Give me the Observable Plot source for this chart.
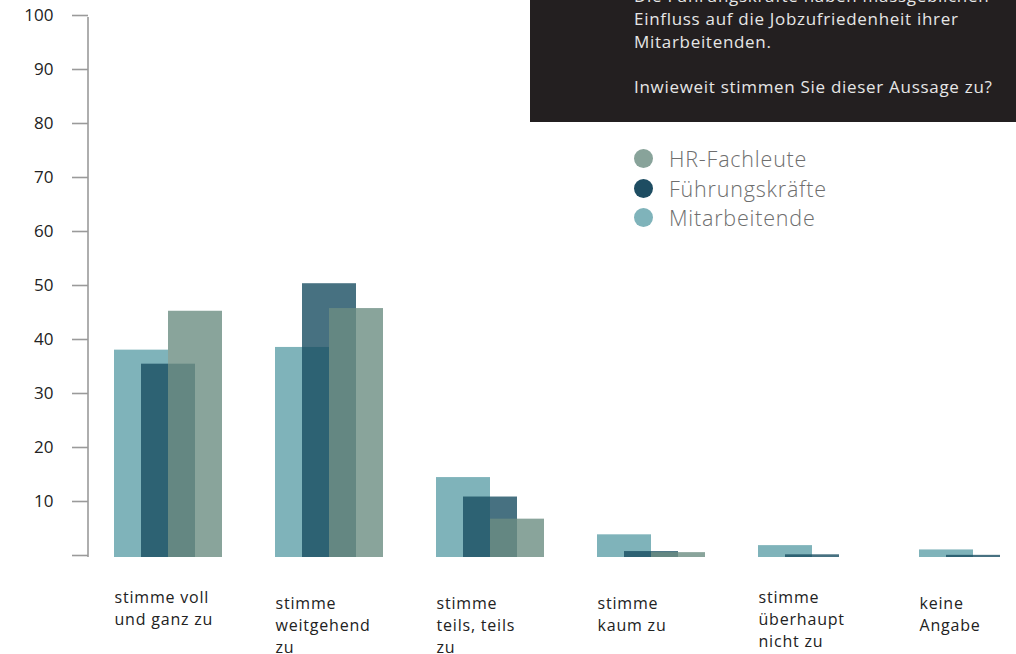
<!DOCTYPE html>
<html><head><meta charset="utf-8">
<script src="https://cdn.jsdelivr.net/npm/d3@7"></script>
<script src="https://cdn.jsdelivr.net/npm/@observablehq/plot@0.6"></script>
<style>
body{margin:0;background:#fff;font-family:"Open Sans", sans-serif;}
#wrap{position:relative;width:1016px;height:654px;overflow:hidden;}
#chart{position:absolute;left:0;top:0;}
#box{position:absolute;left:530px;top:0;width:486px;height:122px;background:#231f20;color:#e6e6e6;font-size:17px;line-height:22.7px;letter-spacing:0.7px;overflow:hidden;}
#box .txt{position:absolute;left:104px;top:-14.7px;white-space:pre;}
#legend{position:absolute;left:634px;top:144px;}
.item{display:flex;align-items:center;height:29.5px;font-size:21.5px;font-weight:300;letter-spacing:0.8px;color:#6e6e6e;}
.sw{width:19px;height:19px;border-radius:50%;margin-right:16px;flex:none;}
[aria-label="y-axis tick label"]{fill:#222;}
[aria-label="text"] text{letter-spacing:0.8px;}
</style></head><body>
<div id="wrap"><div id="chart"></div><div id="box"><div class="txt"></div></div><div id="legend"></div></div>
<script>
const categories = ["stimme voll\nund ganz zu", "stimme\nweitgehend\nzu", "stimme\nteils, teils\nzu", "stimme\nkaum zu", "stimme\nüberhaupt\nnicht zu", "keine\nAngabe"];
const mitarbeitende = [38.4, 38.9, 14.8, 4.2, 2.2, 1.4];
const fuehrungskraefte = [35.8, 50.7, 11.2, 1.1, 0.5, 0.4];
const hrFachleute = [45.6, 46.1, 7.1, 0.9, 0, 0];
const yTicks = [0, 10, 20, 30, 40, 50, 60, 70, 80, 90, 100];
const legendNames = ["HR-Fachleute", "Führungskräfte", "Mitarbeitende"];
const legendColors = ["#88a39a", "#1e4d62", "#7fb3ba"];
const questionLines = ["Die Führungskräfte haben massgeblichen", "Einfluss auf die Jobzufriedenheit ihrer", "Mitarbeitenden.", "", "Inwieweit stimmen Sie dieser Aussage zu?"];

const rows = (vals) => categories.map((c, i) => ({c, v: vals[i]}));
const raised = new Set([categories[0], categories[4]]);

const axisLine = (index, scales, values, dims) => {
  const l = d3.create("svg:line")
    .attr("x1", dims.marginLeft).attr("x2", dims.marginLeft)
    .attr("y1", scales.y(0)).attr("y2", scales.y(100))
    .attr("stroke", "#9a9a9a").attr("stroke-width", 1.6);
  return l.node();
};

const chart = Plot.plot({
  width: 1016,
  height: 654,
  marginLeft: 88,
  marginTop: 17,
  marginBottom: 97,
  marginRight: 12,
  style: {fontFamily: "'Open Sans', sans-serif", background: "transparent"},
  x: {type: "band", domain: categories, range: [139.5, 1001.5], paddingInner: 0.666, paddingOuter: 0, axis: null},
  y: {domain: [0, 100], range: [557, 17], axis: null},
  marks: [
    Plot.barY(rows(mitarbeitende), {x: "c", y: "v", fill: "#7fb3ba", dx: -27}),
    Plot.barY(rows(fuehrungskraefte), {x: "c", y: "v", fill: "#194d62", fillOpacity: 0.8}),
    Plot.barY(rows(hrFachleute), {x: "c", y: "v", fill: "#6b8d82", fillOpacity: 0.8, dx: 27}),
    Plot.axisY({ticks: yTicks, label: null, tickSize: 16, tickPadding: 19, tickFormat: d => d === 0 ? "" : String(d), fontSize: 17, color: "#9a9a9a", strokeWidth: 1.6, dy: -2}),
    axisLine,
    Plot.text(categories.filter(c => raised.has(c)), {x: d => d, text: d => d, frameAnchor: "bottom", lineAnchor: "top", dy: 29.5, dx: -54, textAnchor: "start", fontSize: 16, lineHeight: 1.39, fill: "#222"}),
    Plot.text(categories.filter(c => !raised.has(c)), {x: d => d, text: d => d, frameAnchor: "bottom", lineAnchor: "top", dy: 35.5, dx: -54, textAnchor: "start", fontSize: 16, lineHeight: 1.39, fill: "#222"})
  ]
});
document.getElementById("chart").appendChild(chart);

document.querySelector("#box .txt").textContent = questionLines.join("\n");
const legend = document.getElementById("legend");
legendNames.forEach((n, i) => {
  const it = document.createElement("div");
  it.className = "item";
  it.innerHTML = `<span class="sw" style="background:${legendColors[i]}"></span><span>${n}</span>`;
  legend.appendChild(it);
});
</script>
</body></html>
